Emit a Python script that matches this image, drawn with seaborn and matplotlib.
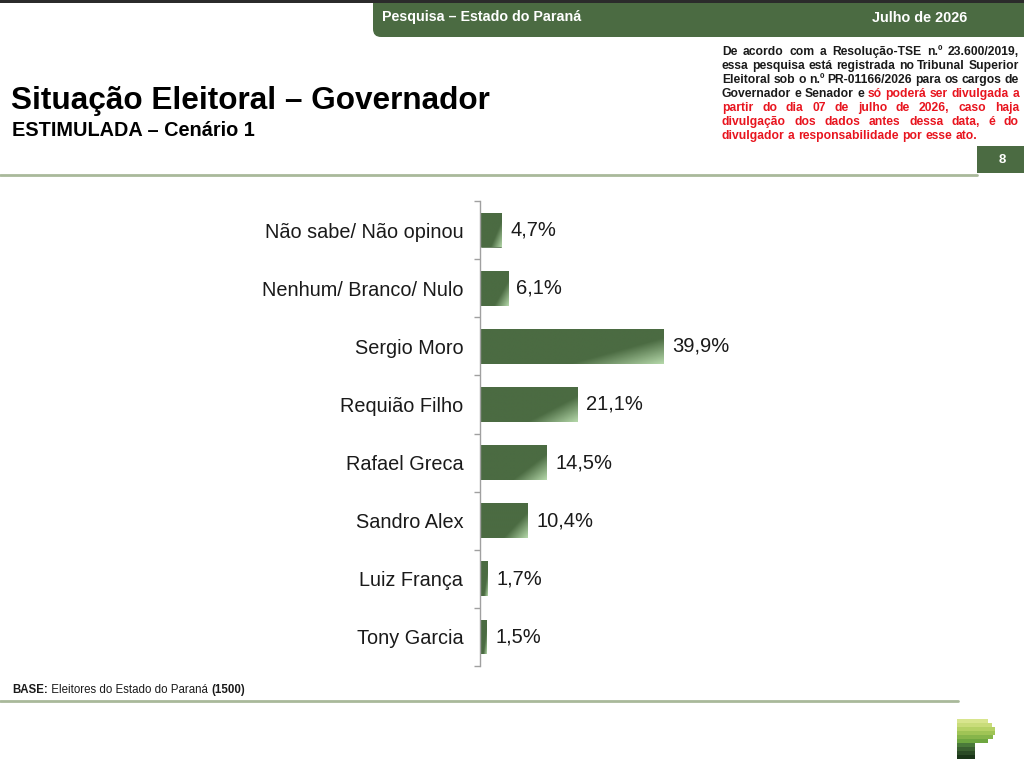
import numpy as np
import matplotlib
matplotlib.use("Agg")
import matplotlib.pyplot as plt
import matplotlib.transforms as mtransforms
from matplotlib.patches import FancyBboxPatch, Rectangle
from matplotlib.lines import Line2D
from matplotlib.colors import LinearSegmentedColormap
import seaborn as sns

# ------------------------------------------------------------------
# data
# ------------------------------------------------------------------
categories = ["Não sabe/ Não opinou", "Nenhum/ Branco/ Nulo", "Sergio Moro",
              "Requião Filho", "Rafael Greca", "Sandro Alex", "Luiz França",
              "Tony Garcia"]
values = [4.7, 6.1, 39.9, 21.1, 14.5, 10.4, 1.7, 1.5]
value_labels = [f"{v:.1f}".replace(".", ",") + "%" for v in values]

header_left = "Pesquisa – Estado do Paraná"
header_right = "Julho de 2026"
title = "Situação Eleitoral – Governador"
subtitle = "ESTIMULADA – Cenário 1"
page_number = "8"

# disclaimer lines, text after "|" is red
disclaimer = [
    "De acordo com a Resolução-TSE n.º 23.600/2019,",
    "essa pesquisa está registrada no Tribunal Superior",
    "Eleitoral sob o n.º PR-01166/2026 para os cargos de",
    "Governador e Senador e |só poderá ser divulgada a",
    "|partir do dia 07 de julho de 2026, caso haja",
    "|divulgação dos dados antes dessa data, é do",
    "|divulgador a responsabilidade por esse ato.",
]

GREEN = "#4b6b42"
LIGHT = "#b3d6a8"
LINE = "#a9b99a"
RED = "#e8141e"
INK = "#1a1a1a"

W, H = 1024, 769

def fx(x):
    return x / W

def fy(y):
    return 1 - y / H

sns.set_theme(style="white")
plt.rcParams["font.family"] = ["Liberation Sans", "DejaVu Sans"]

fig = plt.figure(figsize=(W / 100, H / 100), dpi=100)
fig.patch.set_facecolor("white")
px = mtransforms.IdentityTransform()

# header box (rounded bottom-left) and dark strip on top
fig.add_artist(FancyBboxPatch((373 + 6, H - 37 + 6), 700, 60,
                              boxstyle="round,pad=6,rounding_size=8",
                              transform=px, facecolor=GREEN, edgecolor="none"))
fig.add_artist(Rectangle((0, H - 3), W, 3, transform=px,
                         facecolor="#2b2b2b", edgecolor="none"))
fig.text(fx(382), fy(17.5), header_left, color="white", fontsize=10.3,
         fontweight="bold", va="center", ha="left")
fig.text(fx(967), fy(17.5), header_right, color="white", fontsize=10.4,
         fontweight="bold", va="center", ha="right")

# title
fig.text(fx(11), fy(101), title, fontsize=22.7, fontweight="bold", color="black",
         va="center", ha="left")
fig.text(fx(12), fy(131), subtitle, fontsize=14.3, fontweight="bold",
         color="black", va="center", ha="left")

# page number box
fig.add_artist(Rectangle((977, H - 173), 60, 27, transform=px,
                         facecolor=GREEN, edgecolor="none"))
fig.text(fx(1002), fy(160), page_number, color="white", fontsize=9.5,
         fontweight="bold", va="center", ha="center")

# separator lines
fig.add_artist(Line2D([0, fx(977)], [fy(175), fy(175)], color=LINE, lw=2))
fig.add_artist(Line2D([0, fx(958)], [fy(701), fy(701)], color=LINE, lw=2))

# justified disclaimer
renderer = fig.canvas.get_renderer()
dfont = dict(fontsize=8.7, fontweight="bold")

def text_width(s):
    t = fig.text(0, 0, s, **dfont)
    w = t.get_window_extent(renderer).width
    t.remove()
    return w

x0, x1 = 722, 1019
for i, line in enumerate(disclaimer):
    black_part, _, red_part = line.partition("|")
    words = [(w, INK) for w in black_part.split()] + [(w, RED) for w in red_part.split()]
    widths = [text_width(w) for w, _ in words]
    if i == len(disclaimer) - 1:
        gap = text_width("a b") - text_width("ab")
    else:
        gap = (x1 - x0 - sum(widths)) / (len(words) - 1)
    xc = x0
    y = 55 + i * 14
    for (w, c), wd in zip(words, widths):
        fig.text(fx(xc), fy(y), w, color=c, va="baseline", ha="left", **dfont)
        xc += wd + gap

# ------------------------------------------------------------------
# bar chart
# ------------------------------------------------------------------
ax = fig.add_axes([fx(480), fy(666), 461 / W, (666 - 201) / H])
sns.barplot(x=values, y=categories, orient="h", color=GREEN, width=0.6,
            saturation=1, ax=ax)

cmap = LinearSegmentedColormap.from_list(
    "bar", [(0, GREEN), (0.7, GREEN), (1, LIGHT)])
uu, vv = np.meshgrid(np.linspace(0, 1, 120), np.linspace(0, 1, 30))
grad = 0.6 * uu + 0.4 * vv
for p in ax.patches:
    x, y, w, h = p.get_x(), p.get_y(), p.get_width(), p.get_height()
    im = ax.imshow(grad, cmap=cmap, vmin=0, vmax=1, extent=(x, x + w, y + h, y),
                   origin="upper", aspect="auto", interpolation="bilinear",
                   zorder=p.get_zorder() + 0.1)
    im.set_clip_path(p)

ax.bar_label(ax.containers[0], labels=value_labels, padding=6, fontsize=14.5,
             color=INK)

ax.set_xlim(0, 100)
ax.set_ylim(len(categories) - 0.5, -0.5)
ax.set_xlabel("")
ax.set_ylabel("")
ax.set_xticks([])
for s in ["top", "right", "bottom"]:
    ax.spines[s].set_visible(False)
ax.spines["left"].set_color("#a0a0a0")
ax.spines["left"].set_linewidth(1)
ax.set_yticks(np.arange(-0.5, len(categories), 1), minor=True)
ax.tick_params(axis="y", which="major", length=0, pad=12, labelsize=14.3,
               labelcolor=INK)
ax.tick_params(axis="y", which="minor", left=True, length=4, width=1,
               color="#a0a0a0")
ax.set_facecolor("none")

# footer base note
bx = 12
for s, wt in [("BASE:", "bold"), (" Eleitores do Estado do Paraná ", "normal"),
              ("(1500)", "bold")]:
    t = fig.text(fx(bx), fy(690), s, fontsize=8.3, fontweight=wt, color=INK,
                 va="center", ha="left")
    bx += t.get_window_extent(renderer).width

# logo stripes
logo_rows = [(988, "#d8e58e"), (992, "#c9dc7a"), (995, "#b5d165"),
             (995, "#9fc455"), (993, "#86b54a"), (988, "#6ea640"),
             (975, "#4a7a3a"), (975, "#3a6030"), (975, "#2a4a25"),
             (975, "#1a3518")]
for k, (xr, c) in enumerate(logo_rows):
    yt = 719 + k * 4
    fig.add_artist(Rectangle((957, H - yt - 3.6), xr - 957, 3.6, transform=px,
                             facecolor=c, edgecolor="none"))

fig.savefig("out.png", dpi=100)
